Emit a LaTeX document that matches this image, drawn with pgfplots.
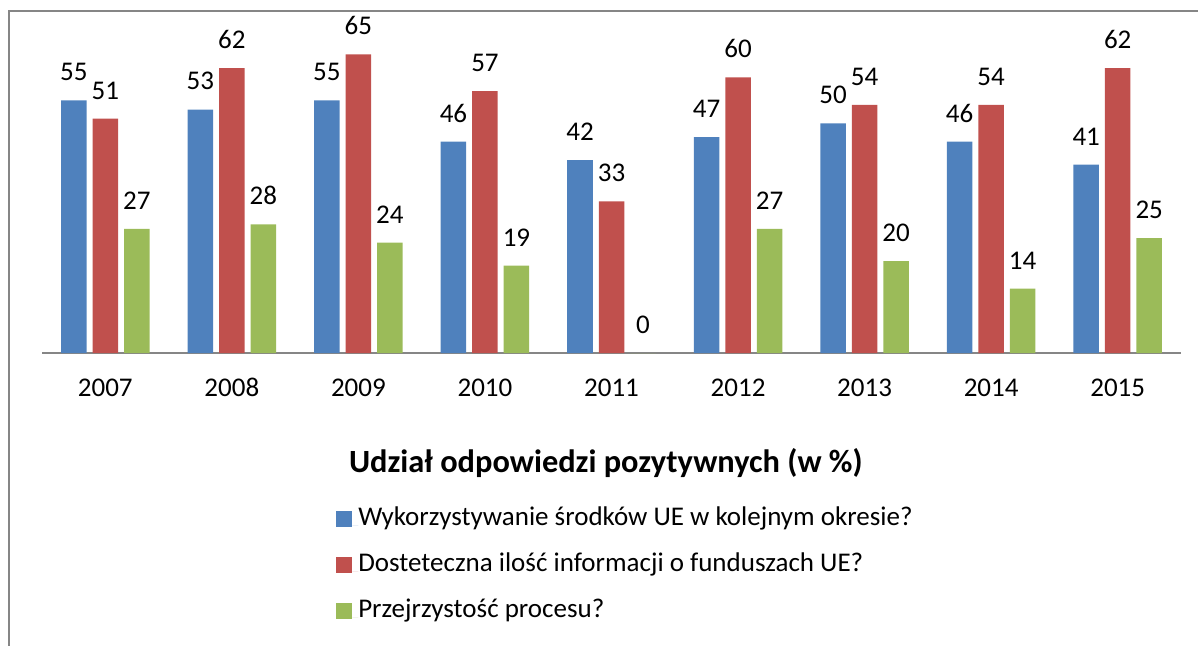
\documentclass[border=0pt]{standalone}
\usepackage{pgfplots}
\pgfplotsset{compat=1.18}
\usepackage{fontspec}
\setmainfont{Carlito}
\definecolor{cblue}{HTML}{4F81BD}
\definecolor{cred}{HTML}{C0504D}
\definecolor{cgreen}{HTML}{9BBB59}
\definecolor{cgray}{HTML}{868686}
\begin{document}
\begin{tikzpicture}
\useasboundingbox (0,0) rectangle (599pt,322.5pt);
\draw[cgray, line width=1pt] (4.5pt,-1pt) -- (4.5pt,317pt) -- (600pt,317pt);
\begin{axis}[
  at={(21pt,146pt)}, anchor=south west,
  scale only axis, width=569.5pt, height=160.8pt,
  xmin=-0.5, xmax=8.5, ymin=0, ymax=70,
  clip=false,
  axis x line*=bottom, axis y line=none,
  x axis line style={cgray, line width=1pt, -},
  xtick={0,...,8},
  xticklabels={2007,2008,2009,2010,2011,2012,2013,2014,2015},
  major tick length=0pt,
  xticklabel style={anchor=base, yshift=-21.5pt, inner sep=0pt, font=\fontsize{13.5}{16}\selectfont},
  ybar=3pt, bar width=12.75pt,
  /pgf/number format/assume math mode=true,
  nodes near coords,
  every node near coord/.append style={anchor=south, inner sep=0pt, yshift=9.5pt, font=\fontsize{13.5}{16}\selectfont, text=black},
  legend style={at={(axis description cs:0.258,-0.48)}, anchor=north west, draw=none, fill=none,
    inner sep=0pt, row sep=11pt, font=\fontsize{13.5}{16}\selectfont,
    nodes={inner sep=0pt, text height=9pt, text depth=3pt, anchor=base west}},
  legend cell align=left,
]
\addplot[fill=cblue, draw=none, legend image code/.code={\fill[cblue] (0pt,-0.5pt) rectangle (8pt,7.5pt); \path (8pt,0) -- (11pt,0);}]
  coordinates {(0,55) (1,53) (2,55) (3,46) (4,42) (5,47) (6,50) (7,46) (8,41)};
\addplot[fill=cred, draw=none, legend image code/.code={\fill[cred] (0pt,-0.5pt) rectangle (8pt,7.5pt); \path (8pt,0) -- (11pt,0);}]
  coordinates {(0,51) (1,62) (2,65) (3,57) (4,33) (5,60) (6,54) (7,54) (8,62)};
\addplot[fill=cgreen, draw=none, legend image code/.code={\fill[cgreen] (0pt,-0.5pt) rectangle (8pt,7.5pt); \path (8pt,0) -- (11pt,0);}]
  coordinates {(0,27) (1,28) (2,24) (3,19) (4,0) (5,27) (6,20) (7,14) (8,25)};
\legend{Wykorzystywanie środków UE w kolejnym okresie?, Dosteteczna ilość informacji o funduszach UE?, Przejrzystość procesu?}
\node[font=\bfseries\fontsize{16.2}{19}\selectfont, anchor=center] at (axis description cs:0.495,-0.342) {Udział odpowiedzi pozytywnych (w \%)};
\end{axis}
\end{tikzpicture}
\end{document}
